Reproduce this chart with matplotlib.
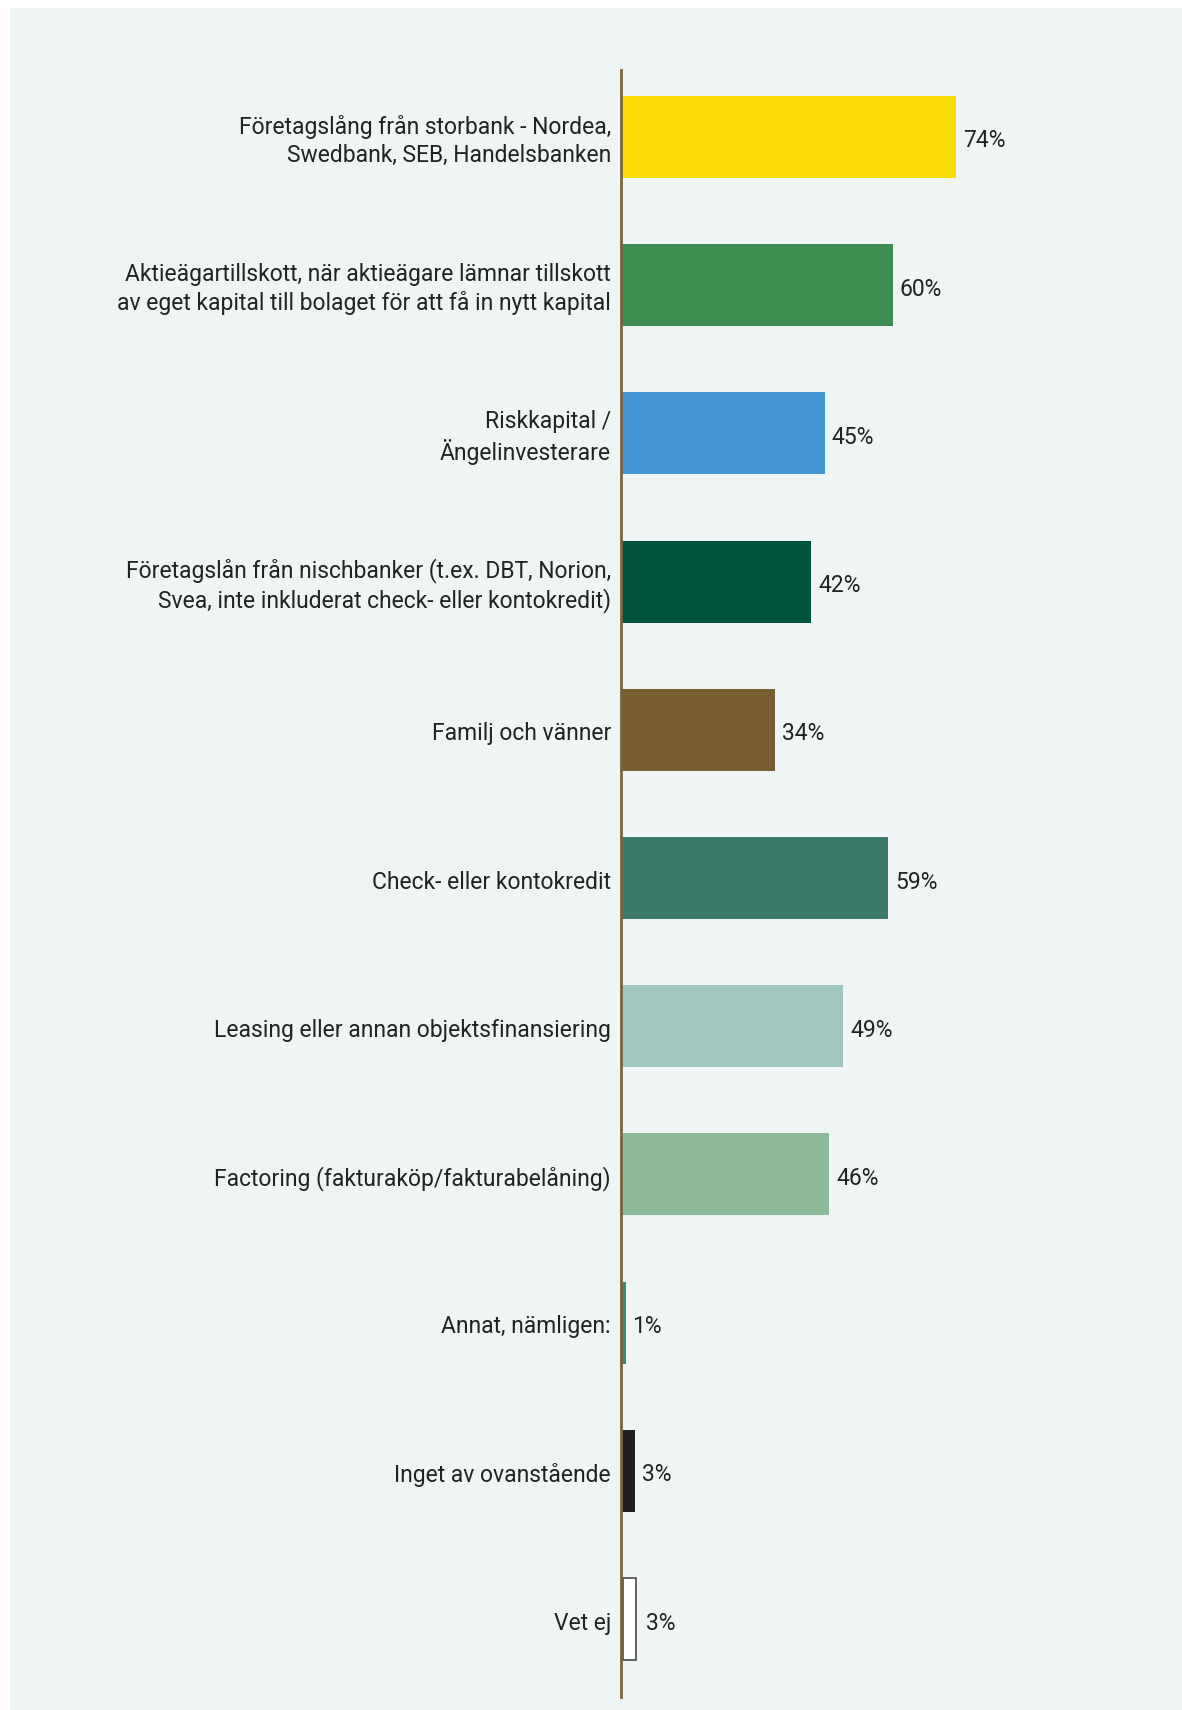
import matplotlib.pyplot as plt
from matplotlib.patches import Rectangle

categories = [
    "Företagslång från storbank - Nordea,\nSwedbank, SEB, Handelsbanken",
    "Aktieägartillskott, när aktieägare lämnar tillskott\nav eget kapital till bolaget för att få in nytt kapital",
    "Riskkapital /\nÄngelinvesterare",
    "Företagslån från nischbanker (t.ex. DBT, Norion,\nSvea, inte inkluderat check- eller kontokredit)",
    "Familj och vänner",
    "Check- eller kontokredit",
    "Leasing eller annan objektsfinansiering",
    "Factoring (fakturaköp/fakturabelåning)",
    "Annat, nämligen:",
    "Inget av ovanstående",
    "Vet ej",
]
values = [74, 60, 45, 42, 34, 59, 49, 46, 1, 3, 3]
colors = ["#F9DC06", "#3E8E53", "#4497D2", "#00543C", "#795E32", "#3C7B6B",
          "#A0C7BF", "#8DBB99", "#3E8B6E", "#231F20", "#FFFFFF"]
edges = [None] * 10 + ["#555555"]

W, H = 1182, 1710
bg = "#EFF5F4"
fs = 16.5
txt = "#222222"
plt.rcParams['font.family'] = ['Roboto', 'DejaVu Sans']

fig = plt.figure(figsize=(W / 100, H / 100), dpi=100)
fig.patch.set_facecolor("white")
fig.patches.append(Rectangle((10 / W, 0), 1 - 10 / W, 1 - 8 / H, transform=fig.transFigure,
                             facecolor=bg, edgecolor="none", zorder=-10))

# axis starts at x=621px, 4.53px per percent
left_px, right_px = 621, 1150
ax = fig.add_axes([left_px / W, 1 - 1697 / H, (right_px - left_px) / W, (1697 - 70) / H])
ax.set_facecolor("none")
px_per_pct = 4.53
ax.set_xlim(0, (right_px - left_px) / px_per_pct)
ax.set_ylim(len(values) - 1 + 0.526, -0.452)

for i, (cat, v, c, e) in enumerate(zip(categories, values, colors, edges)):
    if e is None:
        ax.barh(i, v, height=0.553, color=c, zorder=2)
    else:
        ax.barh(i, v, left=0.4, height=0.553, color=c, edgecolor=e, linewidth=1.3, zorder=2)
    off = 7 if e is None else 11
    ax.annotate(f"{v}%", (v, i), xytext=(off, -4), textcoords="offset pixels",
                ha="left", va="center", fontsize=fs, color=txt)
    ax.annotate(cat, (0, i), xycoords=("axes fraction", "data"), xytext=(-10, -4),
                textcoords="offset pixels", ha="right", va="center", fontsize=fs,
                color=txt, linespacing=1.25, multialignment="right")

ax.set_yticks([])
ax.set_xticks([])
for s in ["top", "right", "bottom"]:
    ax.spines[s].set_visible(False)
ax.spines["left"].set_color("#7A6440")
ax.spines["left"].set_linewidth(2)
ax.spines["left"].set_zorder(3)

fig.savefig("out.png", dpi=100, facecolor=fig.get_facecolor())
